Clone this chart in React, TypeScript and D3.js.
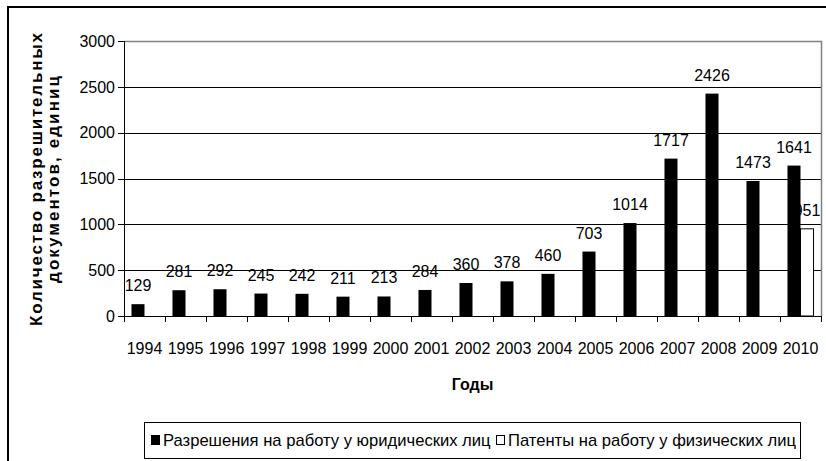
import React from 'react';
import * as d3 from 'd3';

const years = ['1994','1995','1996','1997','1998','1999','2000','2001','2002','2003','2004','2005','2006','2007','2008','2009','2010'];
const permits = [129,281,292,245,242,211,213,284,360,378,460,703,1014,1717,2426,1473,1641];
const patents: (number | null)[] = [null,null,null,null,null,null,null,null,null,null,null,null,null,null,null,null,951];
const yTicks = [0,500,1000,1500,2000,2500,3000];
const seriesNames = ['Разрешения на работу у юридических лиц', 'Патенты на работу у физических лиц'];
const yTitle = ['Количество разрешительных', 'документов, единиц'];
const xTitle = 'Годы';

const W = 826, H = 461;
const plot = { left: 124, right: 821, top: 41, bottom: 316 };
const FONT = '"Liberation Sans", Arial, sans-serif';

export default function App() {
  const x = d3.scaleBand<string>().domain(years).range([plot.left, plot.right]).paddingInner(0).paddingOuter(0);
  const inner = d3.scaleBand<string>().domain(['p', 'q']).range([0, x.bandwidth()]).paddingInner(0).paddingOuter(0.575);
  const y = d3.scaleLinear().domain([0, 3000]).range([plot.bottom, plot.top]);
  const fs = 16;
  const labelOff = 13;

  return (
    <svg width={W} height={H} style={{ position: 'absolute', left: 0, top: 0, background: '#fff' }} fontFamily={FONT}>
      <rect x={0} y={0} width={W} height={H} fill="#fff" />
      <rect x={8} y={7} width={W + 20} height={H + 20} fill="none" stroke="#000" strokeWidth={2} />
      {/* gridlines */}
      {yTicks.filter(t => t > 0 && t < 3000).map(t => (
        <line key={t} x1={plot.left} x2={plot.right} y1={Math.round(y(t)) + 0.5} y2={Math.round(y(t)) + 0.5} stroke="#000" strokeWidth={1} />
      ))}
      {/* plot border */}
      <path d={`M${plot.left},${plot.top + 0.5}H${plot.right + 0.5}V${plot.bottom}`} fill="none" stroke="#808080" strokeWidth={1.5} />
      {/* y axis */}
      <line x1={plot.left + 0.5} x2={plot.left + 0.5} y1={plot.top} y2={plot.bottom + 6} stroke="#000" />
      {yTicks.map(t => (
        <g key={t}>
          <line x1={plot.left - 6} x2={plot.left} y1={Math.round(y(t)) + 0.5} y2={Math.round(y(t)) + 0.5} stroke="#000" />
          <text x={plot.left - 9} y={y(t)} dy="0.36em" textAnchor="end" fontSize={fs}>{t}</text>
        </g>
      ))}
      {/* x axis */}
      <line x1={plot.left} x2={plot.right} y1={plot.bottom + 0.5} y2={plot.bottom + 0.5} stroke="#000" />
      {years.map(yr => (
        <line key={'t' + yr} x1={Math.round(x(yr)!) + 0.5} x2={Math.round(x(yr)!) + 0.5} y1={plot.bottom} y2={plot.bottom + 6} stroke="#000" />
      ))}
      <line x1={plot.right + 0.5} x2={plot.right + 0.5} y1={plot.bottom} y2={plot.bottom + 6} stroke="#000" />
      {years.map(yr => (
        <text key={'l' + yr} x={x(yr)! + x.bandwidth() / 2} y={354} textAnchor="middle" fontSize={fs}>{yr}</text>
      ))}
      {/* patents bars and labels */}
      {patents.map((v, i) => v == null ? null : (
        <g key={'q' + i}>
          <rect x={x(years[i])! + inner('q')!} y={y(v)} width={inner.bandwidth()} height={plot.bottom - y(v)} fill="#fff" stroke="#000" strokeWidth={1} />
          <text x={x(years[i])! + inner('q')! + inner.bandwidth() / 2} y={y(v) - labelOff} textAnchor="middle" fontSize={fs}>{v}</text>
        </g>
      ))}
      {/* permits bars */}
      {permits.map((v, i) => (
        <rect key={'p' + i} x={x(years[i])! + inner('p')!} y={y(v)} width={inner.bandwidth()} height={plot.bottom - y(v)} fill="#000" />
      ))}
      {permits.map((v, i) => (
        <text key={'pl' + i} x={x(years[i])! + inner('p')! + inner.bandwidth() / 2} y={y(v) - labelOff} textAnchor="middle" fontSize={fs}>{v}</text>
      ))}
      {/* axis titles */}
      <text x={(plot.left + plot.right) / 2} y={390} textAnchor="middle" fontSize={fs} fontWeight="bold">{xTitle}</text>
      <g transform={`translate(0, ${(plot.top + plot.bottom) / 2 + 1}) rotate(-90)`}>
        <text x={0} y={42} textAnchor="middle" fontSize={17} fontWeight="bold" textLength={293} lengthAdjust="spacing">{yTitle[0]}</text>
        <text x={0} y={59} textAnchor="middle" fontSize={17} fontWeight="bold" textLength={207} lengthAdjust="spacing">{yTitle[1]}</text>
      </g>
      {/* legend */}
      <rect x={144.5} y={422.5} width={656} height={36} fill="#fff" stroke="#000" />
      <rect x={151} y={435} width={9} height={10} fill="#000" />
      <text x={163} y={446} fontSize={16.6}>{seriesNames[0]}</text>
      <rect x={496.5} y={435.5} width={8} height={9} fill="#fff" stroke="#000" />
      <text x={508} y={446} fontSize={16.6}>{seriesNames[1]}</text>
    </svg>
  );
}
